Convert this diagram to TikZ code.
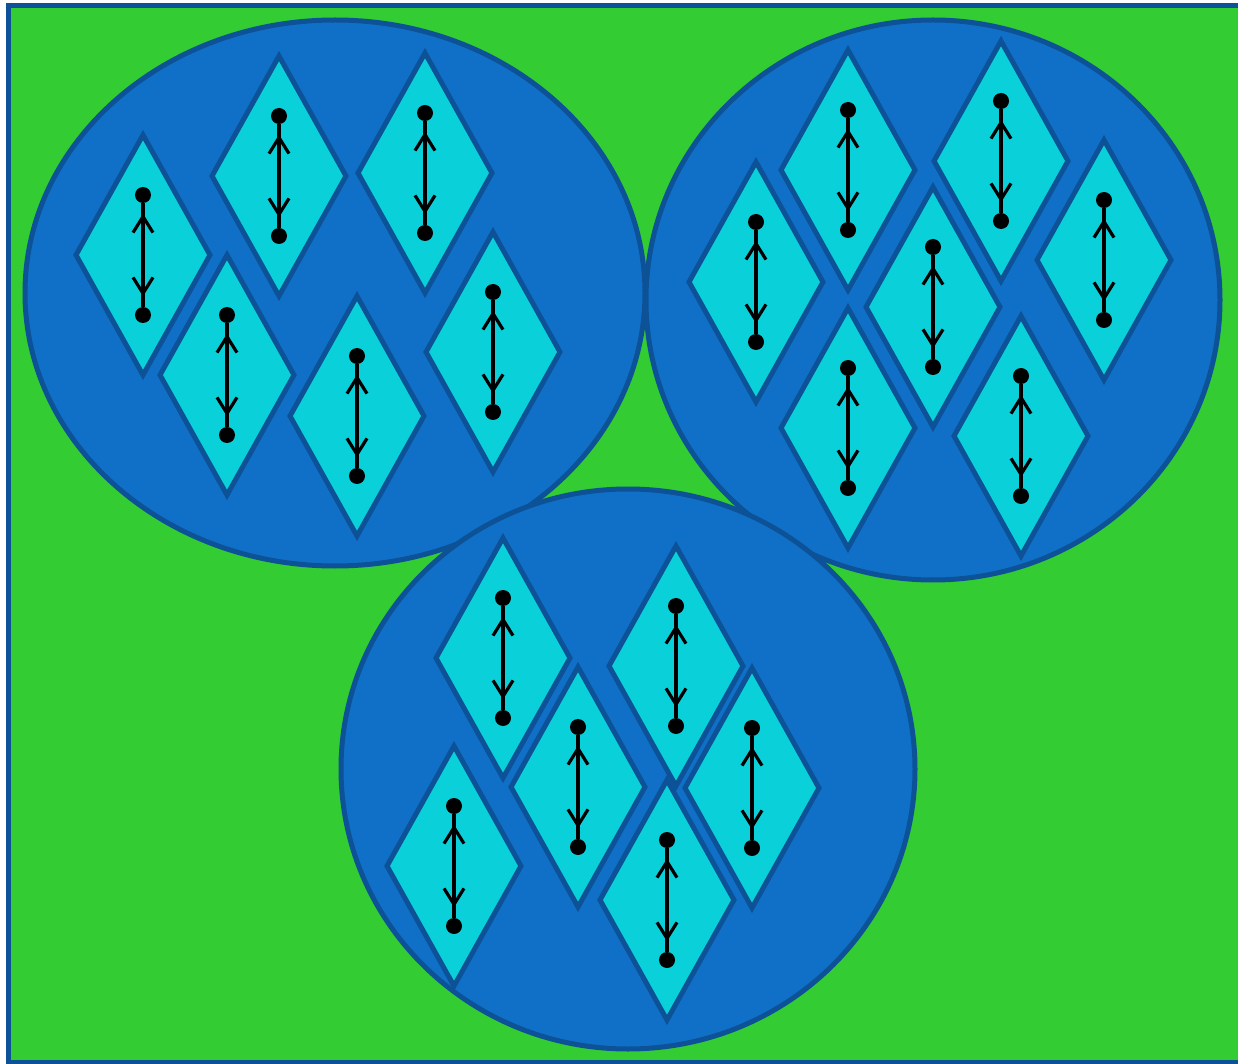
\documentclass[tikz,border=0pt]{standalone}
\usetikzlibrary{arrows.meta}
\definecolor{bggreen}{RGB}{51,204,51}
\definecolor{ellblue}{RGB}{16,112,200}
\definecolor{edgeblue}{RGB}{13,82,150}
\definecolor{diacyan}{RGB}{10,208,218}
\tikzset{
  cell/.style={fill=ellblue,draw=edgeblue,line width=2.5pt},
  diashape/.style={fill=diacyan,draw=edgeblue,line width=2.5pt,line join=miter},
  dot/.style={circle,fill=black,inner sep=0pt,minimum size=8pt,outer sep=0pt},
  stem/.style={line width=1.6pt},
  arr/.style={line width=1.6pt,{Straight Barb[length=8pt,width=10pt]}-{Straight Barb[length=8pt,width=10pt]},shorten <=5.3pt,shorten >=5.3pt}
}
\newcommand\mydiamond[3]{%
  \draw[diashape] (#2-67,#3) -- (#2,#3-120) -- (#2+67,#3) -- (#2,#3+120) -- cycle;
  \node[dot] (t#1) at (#2,#3-60) {};
  \node[dot] (b#1) at (#2,#3+60) {};
  \draw[stem] (t#1) -- (b#1);
  \draw[arr] (t#1) -- (b#1);
}
\begin{document}
\begin{tikzpicture}[x=0.5pt,y=-0.5pt]
\useasboundingbox (0,0) rectangle (1238,1064);
\clip (0,0) rectangle (1238,1064);
\draw[fill=bggreen,draw=edgeblue,line width=2.5pt] (8,6) rectangle (1270,1062);
% group 1
\draw[cell] (335,293) ellipse [x radius=310,y radius=273];
\mydiamond{a1}{143}{255}
\mydiamond{a2}{279}{176}
\mydiamond{a3}{425}{173}
\mydiamond{a4}{227}{375}
\mydiamond{a5}{357}{416}
\mydiamond{a6}{493}{352}
% group 2
\draw[cell] (933,300) ellipse [x radius=287,y radius=280];
\mydiamond{b1}{848}{170}
\mydiamond{b2}{1001}{161}
\mydiamond{b3}{756}{282}
\mydiamond{b4}{933}{307}
\mydiamond{b5}{1104}{260}
\mydiamond{b6}{848}{428}
\mydiamond{b7}{1021}{436}
% group 3
\draw[cell] (628,769) ellipse [x radius=287,y radius=280];
\mydiamond{c1}{503}{658}
\mydiamond{c2}{676}{666}
\mydiamond{c3}{578}{787}
\mydiamond{c4}{752}{788}
\mydiamond{c5}{454}{866}
\mydiamond{c6}{667}{900}
\end{tikzpicture}
\end{document}
